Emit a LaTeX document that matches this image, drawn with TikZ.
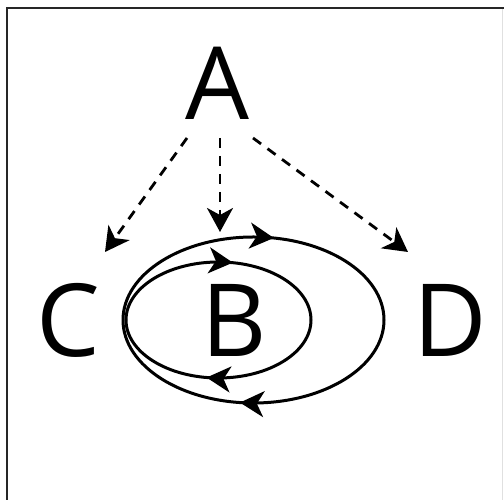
\documentclass[tikz,border=0pt]{standalone}
\usepackage{fontspec}
\setmainfont{Open Sans}
\usetikzlibrary{arrows.meta,decorations.markings}
\begin{document}
\begin{tikzpicture}[x=1pt,y=1pt,
  >={Stealth[length=24pt,width=26pt,inset=7pt]},
  letter/.style={font=\fontsize{101}{101}\selectfont, inner sep=0pt, anchor=base},
  dasharrow/.style={line width=2.8pt, dash pattern=on 10pt off 8pt, ->},
  loopline/.style={line width=3pt},
  midtip/.style={postaction={decorate}, decoration={markings, mark=at position #1 with {\arrow{>}}}}]
\useasboundingbox (0,0) rectangle (504,500);
\draw[line width=2pt, black!85] (7,0) -- (7,492) -- (504,492);
\draw[line width=1pt, black!12] (502,0) -- (502,491);
% letters
\node[letter] (A) at (217,380) {A};
\node[letter] (B) at (234.5,143) {B};
\node[letter] (C) at (68.5,143) {C};
\node[letter] (D) at (450,143) {D};
% dashed connectors
\coordinate (a1) at (187,362);
\coordinate (a2) at (220,362);
\coordinate (a3) at (253,362);
\coordinate (c1) at (105,248);
\coordinate (b1) at (220,268);
\coordinate (d1) at (408,248);
\draw[dasharrow] (a1) -- (c1);
\draw[dasharrow] (a2) -- (b1);
\draw[dasharrow] (a3) -- (d1);
% loops
\coordinate (ol) at (123,180);
\coordinate (or) at (384,180);
\coordinate (il) at (126,180);
\coordinate (ir) at (311,180);
\draw[loopline, midtip=0.56] (ol) arc[start angle=180,end angle=0,x radius=130.5,y radius=83];
\draw[loopline, midtip=0.54] (or) arc[start angle=0,end angle=-180,x radius=130.5,y radius=83];
\draw[loopline, midtip=0.56] (il) arc[start angle=180,end angle=0,x radius=92.5,y radius=58];
\draw[loopline, midtip=0.55] (ir) arc[start angle=0,end angle=-180,x radius=92.5,y radius=58];
\end{tikzpicture}
\end{document}
